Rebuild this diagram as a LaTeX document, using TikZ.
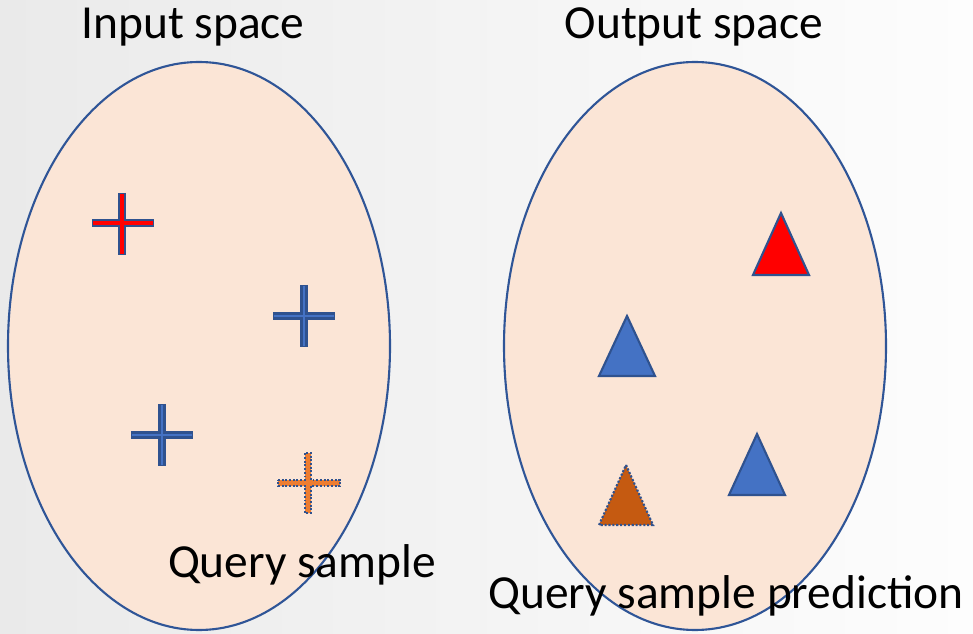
\documentclass[tikz,border=0pt]{standalone}
\usepackage{fontspec}
\setmainfont{Carlito}
\usepackage{tikz}
\usetikzlibrary{shapes.geometric, positioning}
\definecolor{bgL}{RGB}{234, 234, 234}
\definecolor{bgR}{RGB}{253, 253, 253}
\definecolor{skin}{RGB}{251, 229, 214}
\definecolor{rim}{RGB}{47, 85, 151}
\definecolor{bluefill}{RGB}{68, 114, 196}
\definecolor{blueline}{RGB}{47, 82, 143}
\definecolor{qorange}{RGB}{237, 125, 49}
\definecolor{qbrown}{RGB}{197, 90, 17}
\tikzset{
    space/.style={ellipse, draw=rim, line width=1.2pt, fill=skin, minimum width=382*0.02cm, minimum height=568*0.02cm, inner sep=0pt},
    caption/.style={anchor=base, inner sep=0pt, font=\fontsize{27}{32}\selectfont},
    crossout/.style={draw=blueline, line width=4.2pt},
    crossin/.style={draw=bluefill, line width=1.6pt},
    crossred/.style={draw=red, line width=1.8pt},
    tri/.style={draw=blueline, line width=1.2pt, line join=miter},
}
\begin{document}
\begin{tikzpicture}[x=0.02cm, y=-0.02cm]
\useasboundingbox (0,0) rectangle (973,634);
\shade[left color=bgL, right color=bgR] (0,0) rectangle (973,634);

% the two spaces
\node[space] (inspace) at (199,346) {};
\node[space] (outspace) at (695,346) {};
\node[caption] (intitle) at (193,39) {Input space};
\node[caption] (outtitle) at (694,39) {Output space};

% input samples
\draw[crossout] (92,223) -- (154,223) (122,193) -- (122,255);
\draw[crossred] (93,223) -- (153,223) (122,194) -- (122,254);
\foreach \cx/\cy in {304/316, 162/435} {
    \draw[crossout] (\cx-31,\cy) -- (\cx+31,\cy) (\cx,\cy-31) -- (\cx,\cy+31);
    \draw[crossin] (\cx-30,\cy) -- (\cx+30,\cy) (\cx,\cy-30) -- (\cx,\cy+30);
}
% query sample
\filldraw[fill=qorange, draw=blueline, line width=1.1pt, densely dotted]
    (278,480) -- (305,480) -- (305,453) -- (311,453) -- (311,480) -- (340,480)
    -- (340,486) -- (311,486) -- (311,513) -- (305,513) -- (305,486) -- (278,486) -- cycle;
\node[caption] (qtext) at (302,577) {Query sample};

% output samples
\filldraw[tri, fill=red] (781,213) -- (809,275) -- (753,275) -- cycle;
\filldraw[tri, fill=bluefill] (627,316) -- (655,376) -- (599,376) -- cycle;
\filldraw[tri, fill=bluefill] (757,434) -- (785,495) -- (729,495) -- cycle;
\filldraw[tri, fill=qbrown, densely dotted] (626,465) -- (653,525) -- (599,525) -- cycle;
\node[caption] (ptext) at (726,608) {Query sample prediction};
\end{tikzpicture}
\end{document}
